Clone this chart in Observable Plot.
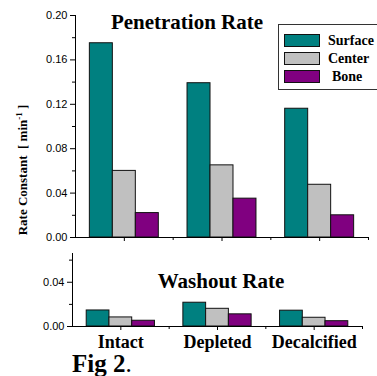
<!DOCTYPE html>
<html><head><meta charset="utf-8">
<script src="https://cdn.jsdelivr.net/npm/d3@7"></script>
<script src="https://cdn.jsdelivr.net/npm/@observablehq/plot@0.6"></script>
<style>
body{margin:0;background:#fff;}
#chart{position:relative;width:377px;height:376px;overflow:hidden;background:#fff;}
#chart > *{position:absolute;left:0;}
</style></head><body><div id="chart"></div>
<script>
const categories = ["Intact", "Depleted", "Decalcified"];
const seriesNames = ["Surface", "Center", "Bone"];
const seriesColors = ["#008080", "#c0c0c0", "#800080"];

const penSurface = [0.175, 0.139, 0.116];
const penCenter  = [0.060, 0.065, 0.0475];
const penBone    = [0.022, 0.035, 0.020];

const washSurface = [0.0145, 0.0215, 0.0143];
const washCenter  = [0.0082, 0.016, 0.0079];
const washBone    = [0.0052, 0.011, 0.0048];

const penTicks = [0, 0.04, 0.08, 0.12, 0.16, 0.20];
const penMinor = [0.02, 0.06, 0.10, 0.14, 0.18];
const washTicks = [0, 0.04];
const washMinor = [0.02, 0.06];

const panelTitles = ["Penetration Rate", "Washout Rate"];
const yTitle = "Rate Constant  [ min";
const yTitleSup = "-1";
const figLabel = "Fig 2";

function rows(vals) {
  const out = [];
  seriesNames.forEach((s, j) => categories.forEach((c, i) =>
    out.push({category: c, ci: i, series: s, sj: j, value: vals[j][i]})));
  return out;
}

const GROUP = 0.706, OFF = (1 - GROUP) / 2, BW = GROUP / 3;
const serif = "'Liberation Serif', 'Times New Roman', Times, serif";
const sans = "'Liberation Sans', Arial, Helvetica, sans-serif";

function panel({data, yDomain, ticks, minor, width, height, ml, mr, mt, mb, showLabels}) {
  return Plot.plot({
    width, height, marginLeft: ml, marginRight: mr, marginTop: mt, marginBottom: mb,
    style: {background: "transparent", overflow: "visible", color: "#000", fontFamily: sans},
    x: {domain: [0, 3]},
    y: {domain: yDomain},
    color: {domain: seriesNames, range: seriesColors},
    marks: [
      Plot.rectY(data, {
        x1: d => d.ci + OFF + d.sj * BW,
        x2: d => d.ci + OFF + (d.sj + 1) * BW,
        y1: 0, y2: "value", fill: "series", stroke: "#111", strokeWidth: 1
      }),
      Plot.ruleY([0], {stroke: "#000", strokeWidth: 1}),
      Plot.ruleX([0], {stroke: "#000", strokeWidth: 1}),
      Plot.axisY({ticks, tickSize: 5, tickPadding: 3, tickFormat: d3.format(".2f"),
        fontSize: 11, fontFamily: sans, label: null, strokeOpacity: 1}),
      Plot.axisY({ticks: minor, tickSize: 3, tickFormat: () => "", label: null, strokeOpacity: 1}),
      Plot.axisX({ticks: [0.5, 1.5, 2.5], tickSize: 4, tickPadding: 5,
        tickFormat: showLabels ? (v => categories[Math.floor(v)]) : () => "",
        fontSize: 18, fontWeight: "bold", fontFamily: serif, label: null, strokeOpacity: 1}),
      Plot.axisX({ticks: [1, 2, 3], tickSize: 3, tickFormat: () => "", label: null, strokeOpacity: 1})
    ]
  });
}

const chart = document.getElementById("chart");

const topPanel = panel({
  data: rows([penSurface, penCenter, penBone]), yDomain: [0, 0.2],
  ticks: penTicks, minor: penMinor, width: 377, height: 245,
  ml: 75, mr: 9, mt: 15, mb: 8, showLabels: false
});
topPanel.style.top = "0px";
chart.appendChild(topPanel);

const bottomPanel = panel({
  data: rows([washSurface, washCenter, washBone]), yDomain: [0, 0.066],
  ticks: washTicks, minor: washMinor, width: 377, height: 136,
  ml: 72, mr: 15, mt: 13, mb: 50, showLabels: true
});
bottomPanel.style.top = "240px";
chart.appendChild(bottomPanel);

// overlay: titles, y title, legend, figure label
const ns = "http://www.w3.org/2000/svg";
const ov = document.createElementNS(ns, "svg");
ov.setAttribute("width", 377); ov.setAttribute("height", 376);
ov.style.top = "0px"; ov.style.pointerEvents = "none";
ov.style.fontFamily = serif; ov.style.fontWeight = "bold";
chart.appendChild(ov);
function txt(parent, str, attrs) {
  const t = document.createElementNS(ns, "text");
  for (const k in attrs) t.setAttribute(k, attrs[k]);
  t.textContent = str; parent.appendChild(t); return t;
}
txt(ov, panelTitles[0], {x: 187, y: 28.5, "text-anchor": "middle", "font-size": 21});
txt(ov, panelTitles[1], {x: 221, y: 288, "text-anchor": "middle", "font-size": 21});

const yt = txt(ov, yTitle, {transform: "translate(27,170) rotate(-90)", "text-anchor": "middle", "font-size": 13});
yt.style.whiteSpace = "pre";
const sup = document.createElementNS(ns, "tspan");
sup.setAttribute("dy", -5); sup.setAttribute("font-size", 9); sup.textContent = yTitleSup; yt.appendChild(sup);
const after = document.createElementNS(ns, "tspan");
after.setAttribute("dy", 5); after.textContent = " ]"; yt.appendChild(after);

const fig = txt(ov, figLabel, {x: 72, y: 372, "font-size": 25});
const dot = document.createElementNS(ns, "tspan");
dot.setAttribute("font-weight", "normal"); dot.textContent = "."; fig.appendChild(dot);

// legend
const lg = document.createElementNS(ns, "g"); ov.appendChild(lg);
const box = document.createElementNS(ns, "rect");
Object.entries({x: 278.5, y: 24.5, width: 110, height: 65, fill: "#fff", stroke: "#333", "stroke-width": 1})
  .forEach(([k, v]) => box.setAttribute(k, v));
lg.appendChild(box);
const rowY = [34, 52, 70], baseY = [45, 62.5, 81];
seriesNames.forEach((s, i) => {
  const r = document.createElementNS(ns, "rect");
  Object.entries({x: 284.5, y: rowY[i] + 0.5, width: 35, height: 12, fill: seriesColors[i], stroke: "#111", "stroke-width": 1})
    .forEach(([k, v]) => r.setAttribute(k, v));
  lg.appendChild(r);
  txt(lg, s, {x: i === 2 ? 332 : 328, y: baseY[i], "font-size": 14});
});
</script></body></html>
